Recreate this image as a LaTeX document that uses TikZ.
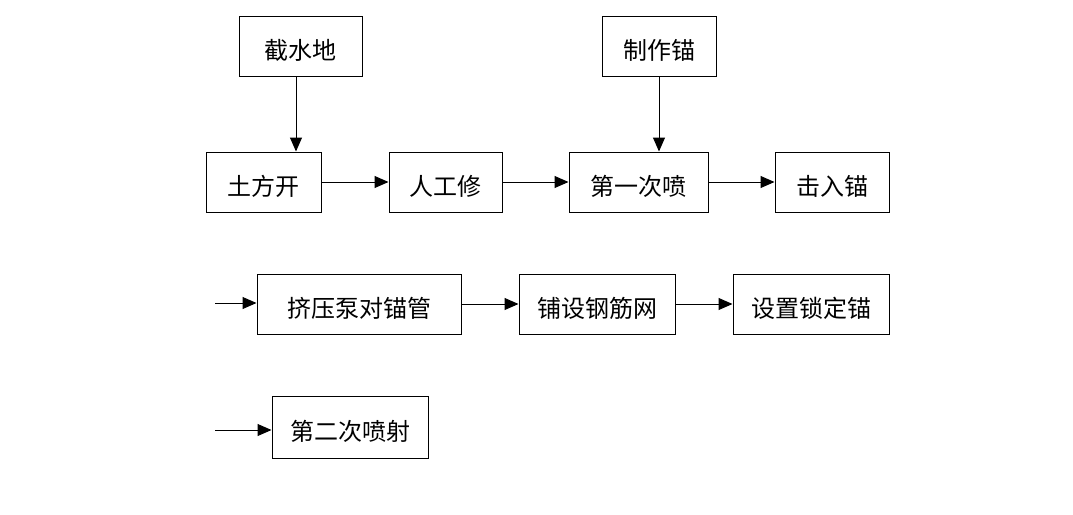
\documentclass[tikz,border=0pt]{standalone}
\usepackage{fontspec}
\usepackage{xcolor}
\usetikzlibrary{arrows.meta}
\newfontfamily\cjkfont{Noto Sans CJK SC}
\definecolor{linecolorc}{HTML}{000000}
\colorlet{linecolor}{linecolorc}
\tikzstyle{stepbox} =[
    draw=linecolor,
    rectangle,
    line width=0.5pt,
    minimum height=30pt,
    inner sep=2pt,
    text height=14pt,
    text depth=1pt,
    font=\cjkfont\fontsize{12pt}{14pt}\selectfont
    ]
\tikzstyle{flow} = [
    draw=linecolor,
    line width=0.5pt,
    -{Triangle[length=7pt,width=6pt]}
    ]

\begin{document}
\begin{tikzpicture}[x=0.5pt,y=-0.5pt]
\useasboundingbox (0,0) rectangle (1073,515);
% top row
\node[stepbox, minimum width=61.5pt] (cut) at (300.5,46) {截水地};
\node[stepbox, minimum width=57pt] (make) at (659,46) {制作锚};
% first line
\node[stepbox, minimum width=57.5pt] (dig) at (263.5,182) {土方开};
\node[stepbox, minimum width=56.5pt] (trim) at (445.5,182) {人工修};
\node[stepbox, minimum width=69.5pt] (sprayone) at (638.5,182) {第一次喷};
\node[stepbox, minimum width=57pt] (drive) at (832,182) {击入锚};
% second line
\node[stepbox, minimum width=102pt] (grout) at (359,304) {挤压泵对锚管};
\node[stepbox, minimum width=78pt] (mesh) at (597,304) {铺设钢筋网};
\node[stepbox, minimum width=78pt] (lock) at (811,304) {设置锁定锚};
% third line
\node[stepbox, minimum width=78pt, minimum height=31pt] (spraytwo) at (350,427) {第二次喷射};
\coordinate (ingrout) at (215,303);
\coordinate (inspray) at (215,430);

\draw[flow] (cut.south -| 296,0) -- (dig.north -| 296,0);
\draw[flow] (make.south) -- (make.south |- sprayone.north);
\draw[flow] (dig) -- (trim);
\draw[flow] (trim) -- (sprayone);
\draw[flow] (sprayone) -- (drive);
\draw[flow] (ingrout) -- (ingrout -| grout.west);
\draw[flow] (grout) -- (mesh);
\draw[flow] (mesh) -- (lock);
\draw[flow] (inspray) -- (inspray -| spraytwo.west);
\end{tikzpicture}
\end{document}
